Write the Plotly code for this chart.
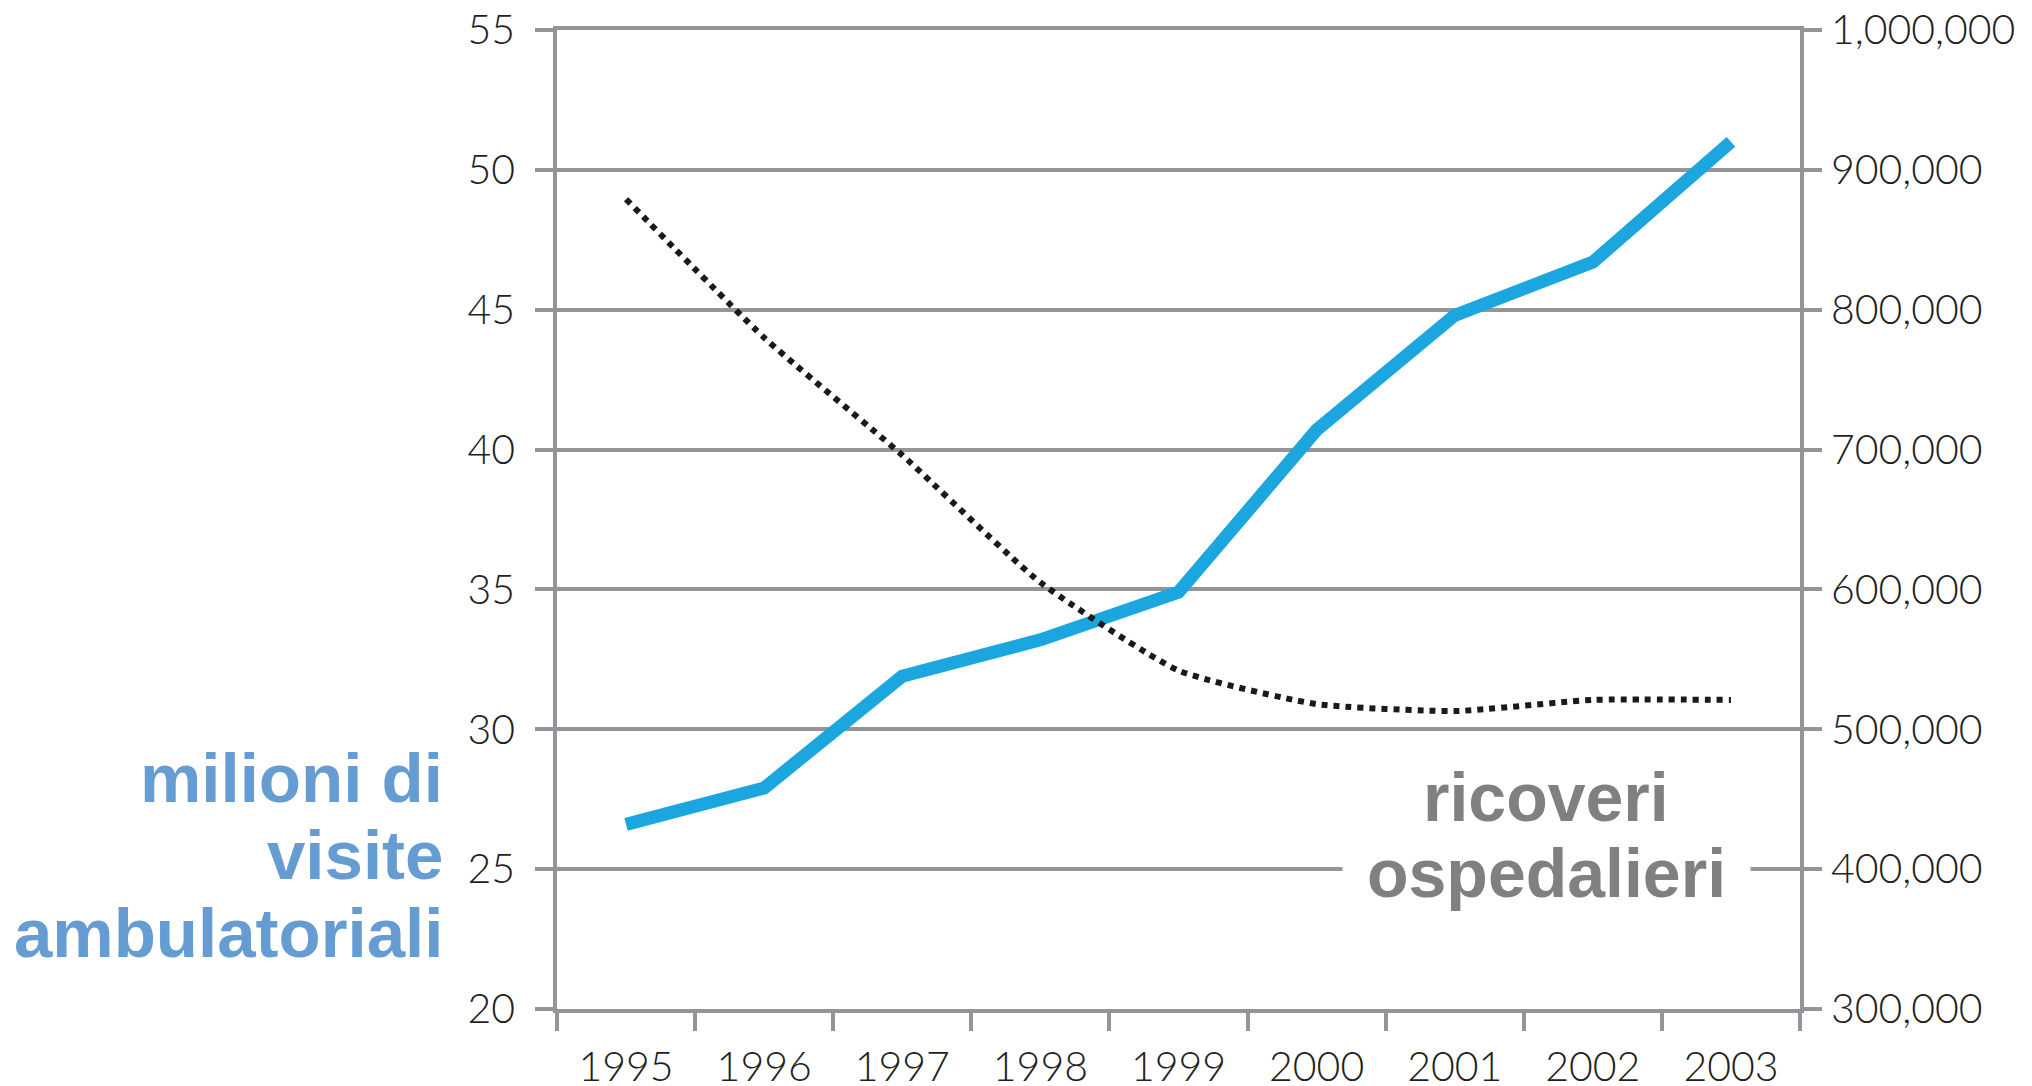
import plotly.graph_objects as go

years = ["1995", "1996", "1997", "1998", "1999", "2000", "2001", "2002", "2003"]
visite_milioni = [26.6, 27.9, 31.9, 33.2, 34.9, 40.7, 44.8, 46.7, 51.0]
ricoveri = [879000, 780000, 696000, 605000, 542000, 518000, 513000, 521000, 521000]

left_ticks = [20, 25, 30, 35, 40, 45, 50, 55]
right_ticks = [300000, 400000, 500000, 600000, 700000, 800000, 900000, 1000000]

W, H = 2032, 1086
ML, MR, MT, MB = 549, 240, 22, 85
PW, PH = W - ML - MR, H - MT - MB

GRID = "#939598"
TXT = "#231f20"
BLUE = "#1ba6df"
LBLUE = "#659dd2"
LGRAY = "#808080"
TICKFONT = dict(family="Lato, Liberation Sans, sans-serif", size=41, color=TXT, weight=300)
LABFONT = "Liberation Sans, Arial, sans-serif"

fig = go.Figure()
fig.add_trace(go.Scatter(
    x=years, y=ricoveri, yaxis="y2", mode="lines",
    line=dict(color="#1a1a1a", width=6, dash="6px,6px", shape="spline", smoothing=0.5),
    showlegend=False, hoverinfo="skip"))
fig.add_trace(go.Scatter(
    x=years, y=visite_milioni, mode="lines",
    line=dict(color=BLUE, width=13),
    showlegend=False, hoverinfo="skip"))


def px_x(px):
    return (px - ML) / PW


def px_y(py):
    return (H - MB - py) / PH


annotations = []
# lower line of right label first (white box interrupts the gridline)
annotations.append(dict(
    text="<b>ospedalieri</b>", xref="paper", yref="paper",
    x=px_x(1538), y=px_y(865), xanchor="center", yanchor="middle",
    showarrow=False, font=dict(family=LABFONT, size=68, color=LGRAY),
    bgcolor="white", borderpad=24))
annotations.append(dict(
    text="<b>ricoveri</b>", xref="paper", yref="paper",
    x=px_x(1538), y=px_y(789), xanchor="center", yanchor="middle",
    showarrow=False, font=dict(family=LABFONT, size=68, color=LGRAY)))

left_lines = [("milioni di", 770), ("visite", 847), ("ambulatoriali", 925)]
for txt, yc in left_lines:
    annotations.append(dict(
        text="<b>%s</b>" % txt, xref="paper", yref="paper",
        x=px_x(437), y=px_y(yc), xanchor="right", yanchor="middle",
        showarrow=False, font=dict(family=LABFONT, size=69, color=LBLUE)))

fig.update_layout(
    width=W, height=H,
    margin=dict(l=ML, r=MR, t=MT, b=MB, pad=0),
    paper_bgcolor="white", plot_bgcolor="white",
    annotations=annotations,
    xaxis=dict(
        type="category", tickson="boundaries", ticks="outside", ticklen=18,
        tickwidth=3.5, tickcolor=GRID, showline=True, linecolor=GRID, linewidth=3.5,
        mirror=True, showgrid=False, tickfont=TICKFONT, ticklabelstandoff=19,
        range=[-0.5, 8.5], automargin=False, ticklabeloverflow="allow"),
    yaxis=dict(
        range=[20, 55], tickvals=left_ticks, ticks="outside", ticklen=18,
        tickwidth=3.5, tickcolor=GRID, showline=True, linecolor=GRID, linewidth=3.5,
        showgrid=True, gridcolor=GRID, gridwidth=3.5, zeroline=False,
        tickfont=TICKFONT, ticklabelstandoff=12, automargin=False,
        ticklabeloverflow="allow"),
    yaxis2=dict(
        range=[300000, 1000000], tickvals=right_ticks, tickformat=",",
        overlaying="y", side="right", ticks="outside", ticklen=18,
        tickwidth=3.5, tickcolor=GRID, showline=True, linecolor=GRID, linewidth=3.5,
        showgrid=False, zeroline=False, tickfont=TICKFONT, ticklabelstandoff=1,
        automargin=False, ticklabeloverflow="allow"),
)

fig.write_html("out.html")
